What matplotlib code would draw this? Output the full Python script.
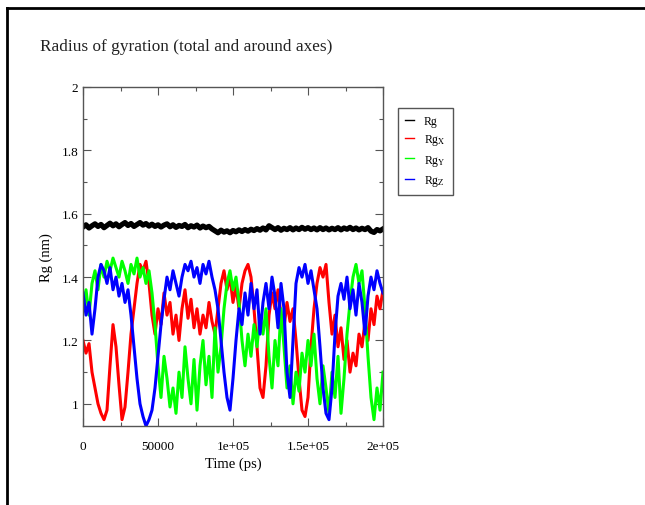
import matplotlib
matplotlib.use('Agg')
import matplotlib.pyplot as plt
from matplotlib.lines import Line2D
import numpy as np

plt.rcParams['font.family'] = ['Liberation Serif', 'DejaVu Serif']
plt.rcParams['mathtext.fontset'] = 'stix'

# time axis (ps), one value every 2000 ps
time_ps = np.arange(0, 200001, 2000)

rg_total = [
    1.558, 1.565, 1.555, 1.562, 1.568, 1.560, 1.566, 1.556, 1.563, 1.570,
    1.562, 1.568, 1.559, 1.566, 1.572, 1.563, 1.569, 1.560, 1.566, 1.572,
    1.564, 1.569, 1.561, 1.567, 1.560, 1.565, 1.558, 1.564, 1.568, 1.559,
    1.565, 1.557, 1.563, 1.560, 1.566, 1.556, 1.562, 1.558, 1.564, 1.555,
    1.561, 1.556, 1.560, 1.552, 1.546, 1.540, 1.548, 1.542, 1.546, 1.540,
    1.547, 1.543, 1.549, 1.544, 1.550, 1.545, 1.551, 1.547, 1.553, 1.548,
    1.555, 1.549, 1.562, 1.556, 1.550, 1.556, 1.548, 1.554, 1.550, 1.556,
    1.549, 1.555, 1.550, 1.557, 1.551, 1.556, 1.550, 1.555, 1.549, 1.556,
    1.550, 1.555, 1.549, 1.554, 1.550, 1.556, 1.549, 1.555, 1.551, 1.557,
    1.550, 1.555, 1.549, 1.554, 1.550, 1.556, 1.545, 1.541, 1.550, 1.546,
    1.552]

rg_x = [
    1.20, 1.16, 1.19, 1.10, 1.05, 1.00, 0.97, 0.95, 0.98, 1.12,
    1.25, 1.18, 1.06, 0.95, 0.99, 1.10, 1.22, 1.30, 1.38, 1.44,
    1.42, 1.45, 1.38, 1.28, 1.22, 1.30, 1.25, 1.35, 1.28, 1.32,
    1.22, 1.28, 1.20, 1.30, 1.36, 1.27, 1.33, 1.24, 1.30, 1.22,
    1.28, 1.24, 1.32, 1.26, 1.22, 1.30, 1.38, 1.42, 1.36, 1.40,
    1.32, 1.37, 1.30, 1.38, 1.42, 1.44, 1.40, 1.30, 1.18, 1.05,
    1.02, 1.12, 1.28, 1.35, 1.30, 1.36, 1.28, 1.24, 1.32, 1.26,
    1.30, 1.20, 1.08, 0.98, 0.96, 1.02, 1.18, 1.30, 1.38, 1.43,
    1.40, 1.44, 1.32, 1.22, 1.28, 1.18, 1.24, 1.14, 1.20, 1.10,
    1.16, 1.12, 1.22, 1.18, 1.26, 1.20, 1.30, 1.25, 1.34, 1.30,
    1.36]

rg_y = [
    1.30, 1.36, 1.28, 1.38, 1.42, 1.36, 1.44, 1.40, 1.45, 1.42,
    1.46, 1.43, 1.40, 1.45, 1.42, 1.38, 1.44, 1.41, 1.46, 1.40,
    1.43, 1.38, 1.42, 1.35, 1.25, 1.12, 1.02, 1.15, 1.08, 0.99,
    1.05, 0.97, 1.10, 1.02, 1.18, 1.08, 1.00, 1.14, 0.98, 1.12,
    1.20, 1.06, 1.15, 1.02, 1.24, 1.10, 1.18, 1.30, 1.38, 1.42,
    1.36, 1.40, 1.32, 1.20, 1.12, 1.22, 1.15, 1.25, 1.18, 1.28,
    1.22, 1.30, 1.15, 1.05, 1.20, 1.12, 1.30, 1.18, 1.05, 1.12,
    1.00, 1.10, 1.04, 1.16, 1.10, 1.20, 1.12, 1.22, 1.08, 1.00,
    1.12, 1.05, 0.97, 1.10, 1.02, 1.15, 0.97, 1.08, 1.22, 1.32,
    1.40, 1.44, 1.38, 1.42, 1.30, 1.15, 1.02, 0.95, 1.05, 0.98,
    1.10]

rg_z = [
    1.35, 1.28, 1.32, 1.22, 1.30, 1.40, 1.44, 1.42, 1.38, 1.43,
    1.36, 1.40, 1.34, 1.38, 1.32, 1.36, 1.28, 1.18, 1.08, 1.00,
    0.96, 0.93, 0.95, 0.98, 1.05, 1.15, 1.25, 1.33, 1.40, 1.36,
    1.42, 1.38, 1.34, 1.40, 1.44, 1.42, 1.45, 1.40, 1.43, 1.38,
    1.44, 1.41, 1.45, 1.40, 1.36, 1.30, 1.20, 1.10, 1.02, 0.98,
    1.08, 1.20, 1.30, 1.25, 1.35, 1.28, 1.38, 1.30, 1.36, 1.22,
    1.32, 1.38, 1.30, 1.40, 1.34, 1.24, 1.38, 1.30, 1.10, 1.02,
    1.20, 1.38, 1.43, 1.40, 1.44, 1.38, 1.42, 1.36, 1.30, 1.18,
    1.05, 0.97, 0.95, 1.05, 1.22, 1.34, 1.38, 1.33, 1.40, 1.30,
    1.36, 1.28, 1.38, 1.32, 1.22, 1.34, 1.40, 1.36, 1.42, 1.38,
    1.35]

xtick_vals = [0, 50000, 100000, 150000, 200000]
xtick_labels = ['0', '50000', '1e+05', '1.5e+05', '2e+05']
ytick_vals = [1.0, 1.2, 1.4, 1.6, 1.8, 2.0]
ytick_labels = ['1', '1.2', '1.4', '1.6', '1.8', '2']

fig = plt.figure(figsize=(6.45, 5.06), dpi=100)
ax = fig.add_axes([83/645, 1-427/506, 300/645, 339/506])

ax.plot(time_ps, rg_total, color='black', lw=3.8, label='Rg')
ax.plot(time_ps, rg_x, color='red', lw=2.2, label=r'Rg$_{\mathrm{X}}$')
ax.plot(time_ps, rg_y, color='#00ff00', lw=2.2, label=r'Rg$_{\mathrm{Y}}$')
ax.plot(time_ps, rg_z, color='blue', lw=2.2, label=r'Rg$_{\mathrm{Z}}$')

ax.set_xlim(0, 200000)
ax.set_ylim(0.93, 2.0)
ax.set_xticks(xtick_vals)
ax.set_xticklabels(xtick_labels)
ax.set_xticks(np.arange(25000, 200000, 50000), minor=True)
ax.set_yticks(ytick_vals)
ax.set_yticklabels(ytick_labels)
ax.set_yticks(np.arange(1.1, 2.0, 0.2), minor=True)
ax.tick_params(which='both', direction='in', top=True, right=True,
               labelsize=9.5, color='#555555', width=0.8)
ax.tick_params(which='major', length=6)
ax.tick_params(which='minor', length=3)
ax.tick_params(axis='x', which='major', pad=10)
for s in ax.spines.values():
    s.set_color('#555555')
    s.set_linewidth(1.0)

ax.set_xlabel('Time (ps)', fontsize=10.5, labelpad=3)
ax.set_ylabel('Rg (nm)', fontsize=10.5, labelpad=6)

leg = ax.legend(loc='upper left', bbox_to_anchor=(392/645, 1-103/506),
                bbox_transform=fig.transFigure, fontsize=8.5, handlelength=0.8,
                handletextpad=0.8, labelspacing=0.45, borderpad=0.6,
                fancybox=False, framealpha=1)
leg.get_frame().set_edgecolor('#555555')
leg.get_frame().set_linewidth(1.0)
for h in leg.get_lines():
    h.set_linewidth(1.0)

fig.text(40/645, 1-47/506, 'Radius of gyration (total and around axes)',
         fontsize=12.4, ha='left', va='center', color='#222222')

# page frame lines
fig.add_artist(Line2D([7/645, 7/645], [0, 1-9/506], transform=fig.transFigure,
                      color='black', lw=2))
fig.add_artist(Line2D([7/645, 1], [1-9/506, 1-9/506], transform=fig.transFigure,
                      color='black', lw=2))

fig.savefig('out.png', dpi=100)
